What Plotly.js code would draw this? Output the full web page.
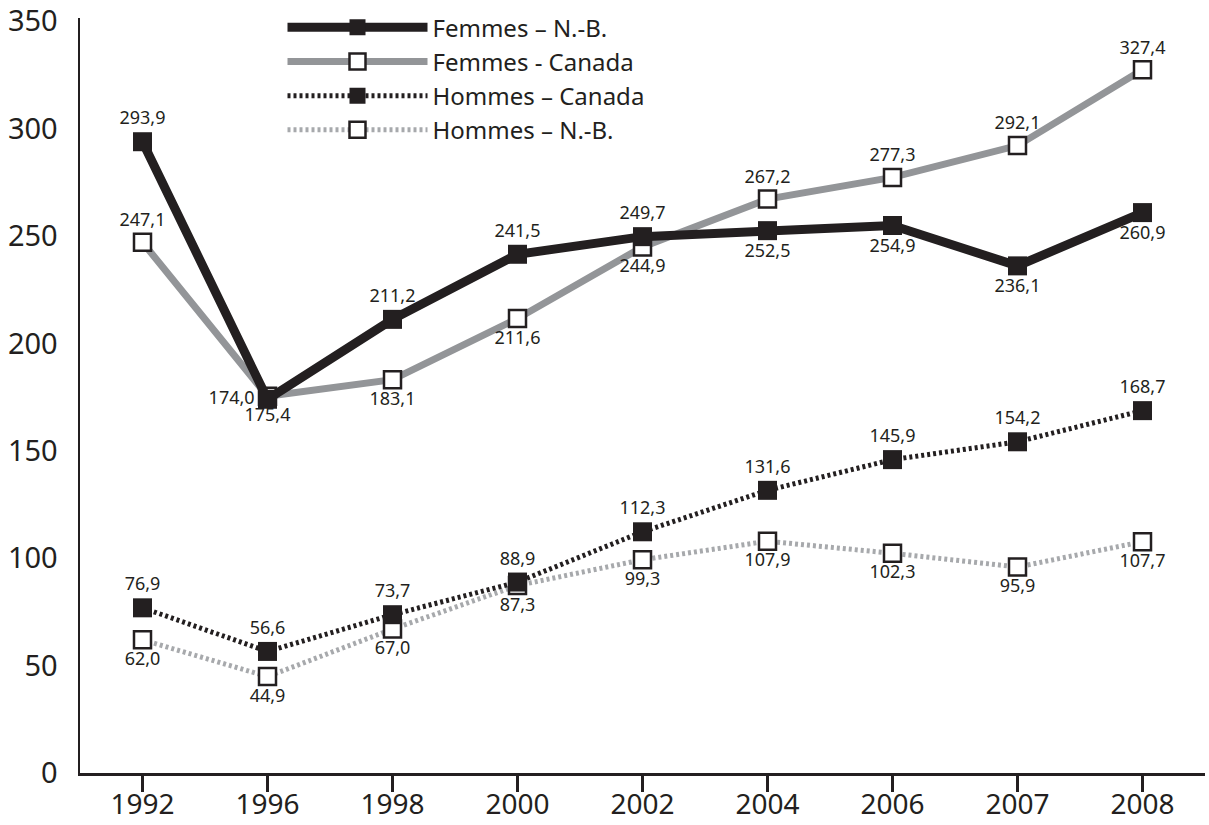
<!DOCTYPE html>
<html>
<head>
<meta charset="utf-8">
<script src="https://cdn.plot.ly/plotly-3.0.1.min.js"></script>
<style>html,body{margin:0;padding:0;background:#fff;}#chart{width:1209px;height:825px;}</style>
</head>
<body>
<div id="chart"></div>
<script>
const years = ['1992','1996','1998','2000','2002','2004','2006','2007','2008'];
const femmesNB = [293.9, 174.0, 211.2, 241.5, 249.7, 252.5, 254.9, 236.1, 260.9];
const femmesCanada = [247.1, 175.4, 183.1, 211.6, 244.9, 267.2, 277.3, 292.1, 327.4];
const hommesCanada = [76.9, 56.6, 73.7, 88.9, 112.3, 131.6, 145.9, 154.2, 168.7];
const hommesNB = [62.0, 44.9, 67.0, 87.3, 99.3, 107.9, 102.3, 95.9, 107.7];

const posFemmesNB = ['top center','middle left','top center','top center','top center','bottom center','bottom center','bottom center','bottom center'];
const posFemmesCanada = ['top center','bottom center','bottom center','bottom center','bottom center','top center','top center','top center','top center'];

const fmt = v => v.toFixed(1).replace('.', ',');
const ink = '#231f20';
const gray = '#939598';
const lightGray = '#a7a9ac';
const font = 'Noto Sans, Open Sans, sans-serif';
const labelFont = {family: font, size: 18, color: ink};

function trace(name, y, lineColor, lineWidth, dash, filled, positions, rank) {
  return {
    x: years, y: y, name: name, type: 'scatter', mode: 'lines+markers+text',
    line: {color: lineColor, width: lineWidth, dash: dash},
    marker: {symbol: 'square', size: filled ? 19 : 17, color: filled ? ink : '#ffffff', line: {color: ink, width: filled ? 0 : 2.5}},
    text: y.map(fmt), textposition: positions, textfont: labelFont,
    cliponaxis: false, legendrank: rank
  };
}

const data = [
  trace('Hommes – N.-B.', hommesNB, lightGray, 5, '3px,3px', false, years.map(() => 'bottom center'), 4),
  trace('Hommes – Canada', hommesCanada, ink, 5, '3px,3px', true, years.map(() => 'top center'), 3),
  trace('Femmes - Canada', femmesCanada, gray, 7, 'solid', false, posFemmesCanada, 2),
  trace('Femmes – N.-B.', femmesNB, ink, 9, 'solid', true, posFemmesNB, 1)
];

const layout = {
  width: 1209, height: 825,
  margin: {l: 80, r: 4, t: 18, b: 52},
  paper_bgcolor: '#ffffff', plot_bgcolor: '#ffffff',
  showlegend: true,
  legend: {x: 0.18, y: 1.017, xanchor: 'left', yanchor: 'top', bgcolor: 'rgba(0,0,0,0)',
    font: {family: font, size: 24, color: ink}, itemwidth: 140, tracegroupgap: 0, traceorder: 'normal'},
  xaxis: {
    type: 'category', range: [-0.5, 8.5], showgrid: false, zeroline: false,
    showline: true, linecolor: ink, linewidth: 2.5,
    ticks: 'outside', ticklen: 16, tickwidth: 2.5, tickcolor: ink,
    ticklabelstandoff: -11,
    tickfont: {family: font, size: 28, color: ink}, fixedrange: true
  },
  yaxis: {
    range: [0, 351.5], tickvals: [0, 50, 100, 150, 200, 250, 300, 350], showgrid: false, zeroline: false,
    showline: true, linecolor: ink, linewidth: 2.5, ticks: '',
    ticklabelstandoff: 14,
    tickfont: {family: font, size: 29, color: ink}, fixedrange: true
  }
};

Plotly.newPlot('chart', data, layout, {displayModeBar: false, staticPlot: true});
</script>
</body>
</html>
